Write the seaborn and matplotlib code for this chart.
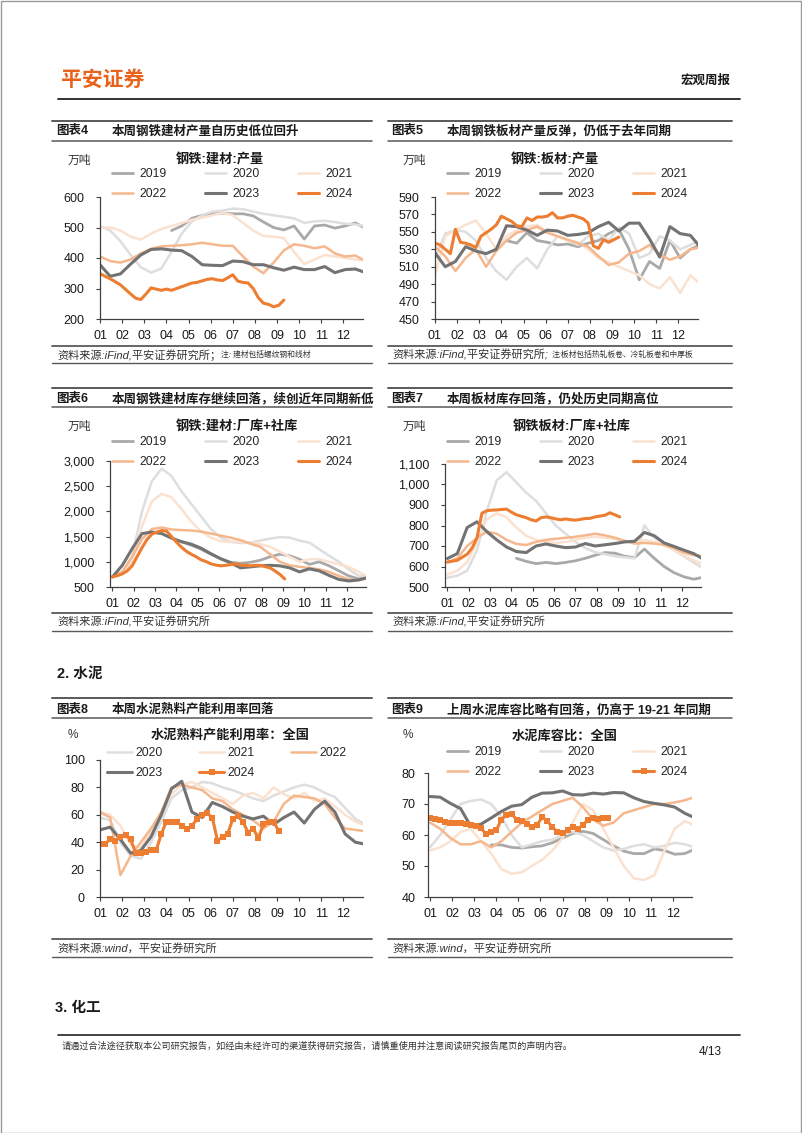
"""Page 4 of the macro weekly: steel output / inventory and cement seasonal charts."""

import numpy as np
import matplotlib
matplotlib.use("Agg")
import matplotlib.pyplot as plt
import seaborn as sns
from matplotlib.lines import Line2D
from matplotlib.patches import Rectangle
from matplotlib.ticker import FuncFormatter

W, H = 802, 1133

# ── week grids (week 0 = first week of January) ─────────────────────────────
WK2 = np.arange(0, 53, 2)        # full year, every other week
WK2_APR = np.arange(14, 53, 2)   # 2019 series starting in April
WK2_MAR = np.arange(12, 53, 2)   # 2019 cement series starting late March

MONTHS = ["01", "02", "03", "04", "05", "06", "07", "08", "09", "10", "11", "12"]
YEARS6 = ["2019", "2020", "2021", "2022", "2023", "2024"]
YEARS5 = ["2020", "2021", "2022", "2023", "2024"]

# ── 图表4 钢铁:建材:产量 (万吨) ────────────────────────────────────────────
rebar_out_2019 = [490, 505, 530, 540, 545, 547, 545, 545, 538, 518, 500, 492, 505, 462,
                  505, 508, 498, 505, 515, 497]
rebar_out_2020 = [505, 490, 455, 410, 370, 352, 365, 420, 480, 520, 540, 552, 555, 562,
                  560, 552, 545, 540, 535, 530, 515, 520, 522, 518, 512, 510, 505]
rebar_out_2021 = [500, 500, 490, 470, 460, 480, 495, 505, 515, 525, 532, 540, 548, 540,
                  515, 490, 472, 470, 465, 420, 380, 395, 410, 405, 400, 395, 392]
rebar_out_2022 = [405, 390, 385, 395, 415, 430, 438, 440, 442, 445, 450, 445, 440, 440,
                  405, 372, 350, 385, 425, 445, 440, 432, 438, 415, 405, 408, 390]
rebar_out_2023 = [378, 340, 348, 380, 410, 428, 430, 426, 424, 405, 378, 376, 375, 390,
                  388, 378, 378, 368, 360, 370, 362, 362, 372, 352, 362, 364, 352]
rebar_out_2024 = [349, 340, 332, 322, 312, 297, 282, 268, 264, 282, 302, 298, 294, 298,
                  294, 300, 306, 312, 318, 320, 325, 330, 332, 328, 326, 335, 345, 324,
                  320, 318, 300, 270, 252, 248, 240, 245, 262]

# ── 图表5 钢铁:板材:产量 (万吨) ────────────────────────────────────────────
plate_out_2019 = [540, 537, 549, 540, 538, 535, 536, 533, 537, 540, 548, 553, 530, 495,
                  516, 508, 540, 520, 530, 535]
plate_out_2020 = [520, 548, 552, 550, 540, 520, 505, 495, 510, 520, 508, 530, 545, 540,
                  535, 545, 548, 540, 555, 548, 520, 525, 545, 540, 530, 535, 540]
plate_out_2021 = [500, 545, 552, 558, 563, 548, 530, 545, 552, 556, 558, 550, 545, 540,
                  538, 530, 520, 515, 510, 505, 500, 490, 485, 498, 480, 500, 490]
plate_out_2022 = [533, 522, 505, 520, 530, 510, 528, 540, 549, 552, 556, 549, 545, 541,
                  537, 533, 522, 512, 515, 525, 528, 535, 524, 518, 522, 530, 532]
plate_out_2023 = [526, 510, 516, 533, 528, 525, 530, 557, 556, 552, 546, 552, 551, 546,
                  547, 549, 556, 561, 551, 560, 560, 542, 521, 556, 548, 546, 532]
plate_out_2024 = [537, 535, 530, 525, 553, 538, 537, 535, 532, 545, 549, 553, 558, 568,
                  565, 562, 557, 556, 566, 563, 567, 567, 568, 572, 566, 566, 568, 569,
                  567, 565, 560, 534, 531, 541, 538, 541, 544]

# ── 图表6 钢铁:建材:厂库+社库 (万吨) ───────────────────────────────────────
rebar_inv_2019 = [1400, 1330, 1250, 1150, 1060, 990, 970, 990, 1030, 1100, 1150, 1120,
                  1050, 950, 1000, 920, 820, 720, 660, 700]
rebar_inv_2020 = [700, 800, 1100, 2000, 2600, 2850, 2700, 2400, 2150, 1900, 1650, 1480,
                  1400, 1370, 1380, 1420, 1460, 1490, 1480, 1420, 1380, 1250, 1120, 1000,
                  850, 720, 700]
rebar_inv_2021 = [700, 780, 1000, 1700, 2200, 2350, 2280, 2050, 1800, 1600, 1480, 1410,
                  1390, 1400, 1380, 1350, 1300, 1200, 1100, 1000, 1050, 1050, 1000, 950,
                  900, 800, 700]
rebar_inv_2022 = [700, 800, 1100, 1450, 1650, 1680, 1640, 1630, 1620, 1600, 1560, 1520,
                  1480, 1430, 1360, 1300, 1150, 1000, 930, 900, 880, 850, 800, 720, 650,
                  640, 680]
rebar_inv_2023 = [700, 930, 1260, 1560, 1590, 1560, 1470, 1400, 1350, 1270, 1160, 1060,
                  980, 880, 900, 920, 930, 920, 880, 800, 860, 820, 730, 650, 620, 640, 690]
rebar_inv_2024 = [700, 725, 760, 820, 920, 1100, 1280, 1440, 1550, 1590, 1620, 1610, 1500,
                  1390, 1290, 1210, 1150, 1100, 1040, 1005, 960, 935, 920, 930, 945, 960,
                  935, 930, 920, 930, 930, 905, 880, 820, 750, 660]

# ── 图表7 钢铁板材:厂库+社库 (万吨) ────────────────────────────────────────
plate_inv_2019 = [640, 625, 614, 620, 614, 620, 628, 640, 655, 668, 665, 650, 643, 685,
                  640, 600, 570, 550, 538, 548]
plate_inv_2020 = [545, 555, 580, 680, 870, 1020, 1060, 1010, 960, 920, 860, 800, 760, 720,
                  690, 670, 660, 650, 645, 640, 800, 740, 710, 680, 650, 620, 590]
plate_inv_2021 = [560, 580, 620, 720, 830, 860, 840, 790, 750, 730, 720, 715, 720, 730,
                  740, 745, 740, 735, 725, 715, 730, 720, 705, 680, 655, 630, 610]
plate_inv_2022 = [620, 640, 700, 740, 770, 760, 730, 710, 705, 720, 730, 735, 740, 745,
                  752, 760, 752, 740, 725, 712, 715, 712, 705, 690, 668, 655, 650]
plate_inv_2023 = [639, 663, 790, 818, 770, 730, 695, 673, 668, 700, 710, 700, 692, 695,
                  712, 700, 706, 712, 720, 723, 766, 750, 715, 698, 680, 663, 636]
plate_inv_2024 = [622, 626, 630, 645, 660, 690, 740, 860, 872, 875, 876, 878, 880, 865,
                  852, 845, 838, 828, 822, 838, 842, 838, 832, 828, 832, 828, 826, 830,
                  834, 835, 842, 846, 850, 862, 852, 842]

# ── 图表8 水泥熟料产能利用率：全国 (%) ─────────────────────────────────────
clinker_2020 = [58, 56, 40, 30, 28, 40, 55, 72, 78, 80, 84, 83, 80, 78, 75, 72, 70, 74,
                77, 80, 82, 80, 76, 73, 65, 57, 53]
clinker_2021 = [62, 60, 52, 38, 36, 48, 60, 75, 82, 84, 80, 76, 72, 68, 74, 76, 72, 80,
                75, 72, 76, 70, 72, 66, 60, 55, 52]
clinker_2022 = [62, 58, 16, 30, 40, 50, 62, 80, 82, 80, 78, 72, 70, 64, 60, 56, 50, 55,
                68, 74, 73, 72, 68, 58, 50, 49, 48]
clinker_2023 = [49, 51, 42, 32, 34, 44, 60, 79, 84.5, 62, 58, 69, 66, 62, 59, 57, 59, 53,
                58, 62, 54, 64, 70, 62, 46, 40, 38.5]
clinker_2024 = [39, 39, 42, 41, 44, 45, 42, 32, 32, 33, 34, 34, 46, 55, 55, 55, 52, 50,
                52, 57, 60, 61, 58, 41, 44, 46, 57, 59, 55, 47, 50, 43, 53, 55, 55, 48]

# ── 图表9 水泥库容比：全国 (%) ─────────────────────────────────────────────
kiln_2019 = [56.8, 56.8, 56.0, 55.8, 56.2, 56.5, 57.5, 59.0, 60.5, 61.2, 60.5, 58.5,
             56.5, 54.8, 54.0, 54.0, 55.5, 55.0, 53.8, 54.0, 55.5]
kiln_2020 = [56, 60, 65, 70, 71, 71.5, 70, 66, 60, 56, 57, 58, 58.5, 60, 61, 60, 58, 56,
             55, 55.5, 56.5, 57, 56, 56.5, 57.5, 57, 56]
kiln_2021 = [55, 56, 58, 61, 62, 58, 54, 49, 47.5, 48, 50, 52, 55, 59, 64, 70, 68, 62, 56,
             50, 46, 45.5, 47, 55, 62, 64.5, 63]
kiln_2022 = [64, 62, 59, 57, 57, 58, 56, 58, 61, 64, 66, 68, 70, 71, 72, 69, 65, 63, 64,
             67, 68, 69, 70, 70, 70.5, 71.2, 72.3]
kiln_2023 = [72.4, 72.2, 70.2, 68.5, 62.8, 63.5, 65.5, 67.6, 69.3, 69.8, 72.2, 73.5, 73.6,
             74.2, 73.0, 72.9, 73.5, 73.2, 73.7, 73.6, 72.0, 70.8, 70.2, 69.7, 69.0, 67.0,
             65.5]
kiln_2024 = [65.5, 65.2, 64.8, 64.3, 64.0, 64.0, 63.8, 63.6, 63.2, 62.8, 62.2, 60.3, 61.0,
             61.5, 65.0, 66.5, 66.8, 65.0, 64.5, 63.5, 62.7, 63.2, 65.8, 64.5, 62.5, 61.0,
             60.5, 61.6, 62.7, 62.0, 63.2, 64.9, 65.6, 65.1, 65.4, 65.4]

STYLE = {
    "2019": dict(color="#a9a9a9", lw=2.0),
    "2020": dict(color="#dedede", lw=1.8),
    "2021": dict(color="#fbe2d0", lw=1.8),
    "2022": dict(color="#f5b78e", lw=1.8),
    "2023": dict(color="#737373", lw=2.2),
    "2024": dict(color="#ed7d31", lw=2.2),
}
ORANGE = "#e8621c"
INK = "#1a1a1a"

sns.set_style("ticks")
plt.rcParams["font.family"] = ["Liberation Sans", "Noto Sans CJK SC"]

fig = plt.figure(figsize=(W / 100, H / 100), dpi=100)


def fx(x):
    return x / W


def fy(y):
    return 1 - y / H


def hline(x0, x1, y, color="#4d4d4d", lw=1.1):
    fig.add_artist(Line2D([fx(x0), fx(x1)], [fy(y), fy(y)], color=color, lw=lw,
                          transform=fig.transFigure))


def text(x, y, s, **kw):
    kw.setdefault("va", "center")
    kw.setdefault("color", INK)
    fig.text(fx(x), fy(y), s, **kw)


def draw_panel(box, series, years, ylim, ystep, legend_xy, xlim=(0, 51.5), comma=False,
               markers=False, ypad=8.0, hl=1.75, htp=0.5, cs=3.2):
    x0, y0, x1, y1 = box
    ax = fig.add_axes([fx(x0), fy(y1), (x1 - x0) / W, (y1 - y0) / H])
    handles = {}
    for year, wk, vals in series:
        st = STYLE[year]
        mk = {}
        if markers and year == "2024":
            mk = dict(marker="s", markersize=3.8, markeredgewidth=0)
        sns.lineplot(x=wk, y=vals, ax=ax, color=st["color"], linewidth=st["lw"], **mk)
        handles[year] = Line2D([], [], color=st["color"], lw=st["lw"], **mk)

    ax.set_xlim(*xlim)
    ax.set_ylim(*ylim)
    ax.set_xticks([(m - 1) * 52 / 12 for m in range(1, 13)])
    ax.set_xticklabels(MONTHS)
    ax.set_yticks(np.arange(ylim[0], ylim[1] + ystep / 2, ystep))
    if comma:
        ax.yaxis.set_major_formatter(FuncFormatter(lambda v, _: f"{v:,.0f}"))
    ax.set_xlabel("")
    ax.set_ylabel("")
    ax.tick_params(axis="both", length=3, width=0.8, color="#404040", labelsize=9,
                   labelcolor=INK)
    ax.tick_params(axis="y", pad=ypad)
    ax.tick_params(axis="x", pad=5)
    for side in ("top", "right"):
        ax.spines[side].set_visible(False)
    for side in ("left", "bottom"):
        ax.spines[side].set_color("#404040")
        ax.spines[side].set_linewidth(0.9)
    ax.patch.set_alpha(0)

    # matplotlib fills legend columns first, so reorder for row-wise reading
    order = [years[r * 3 + c] for c in range(3) for r in range(2) if r * 3 + c < len(years)]
    ax.legend([handles[y] for y in order], order, ncol=3, loc="upper left",
              bbox_to_anchor=(fx(legend_xy[0]), fy(legend_xy[1])),
              bbox_transform=fig.transFigure, frameon=False, fontsize=8.7,
              handlelength=hl, handletextpad=htp, columnspacing=cs, labelspacing=0.7,
              borderpad=0, borderaxespad=0)
    return ax


def wk1(vals):
    return np.arange(len(vals))


# ── page furniture ──────────────────────────────────────────────────────────
fig.add_artist(Rectangle((0.5 / W, 0.5 / H), 1 - 1.5 / W, 1 - 1.5 / H,
                         transform=fig.transFigure, fill=False, ec="#9a9a9a", lw=1.0))
text(61, 80, "平安证券", fontsize=15, fontweight="bold", color=ORANGE)
text(731, 81, "宏观周报", fontsize=9, fontweight="bold", ha="right")
hline(58, 740, 98.5, color="#222222", lw=1.3)

bars = [
    (121, 131, 141, 346, 355, 363),
    (388, 399, 407, 613, 622, 631),
    (698, 710, 718, 939, 948, 957),
]
for top, ttl, bot, s_top, s_txt, s_bot in bars:
    for xa, xb in ((52, 372), (388, 732)):
        hline(xa, xb, top, color="#595959", lw=1.4)
        hline(xa, xb, bot, color="#595959", lw=1.1)
        hline(xa, xb, s_top, color="#595959", lw=1.3)
        hline(xa, xb, s_bot, color="#595959", lw=1.0)

titles = [
    (56, 131, "图表4", "本周钢铁建材产量自历史低位回升"),
    (391, 131, "图表5", "本周钢铁板材产量反弹，仍低于去年同期"),
    (56, 399, "图表6", "本周钢铁建材库存继续回落，续创近年同期新低"),
    (391, 399, "图表7", "本周板材库存回落，仍处历史同期高位"),
    (56, 710, "图表8", "本周水泥熟料产能利用率回落"),
    (391, 710, "图表9", "上周水泥库容比略有回落，仍高于 19-21 年同期"),
]
for x, y, tag, s in titles:
    text(x, y, tag, fontsize=9, fontweight="bold")
    text(x + 56, y, s, fontsize=9, fontweight="bold")

src_kw = dict(fontsize=8, style="italic", color="#333333")
text(57, 355, "资料来源:iFind,平安证券研究所；", **src_kw)
text(221, 355, "注: 建材包括螺纹钢和线材", fontsize=5.6, style="italic", color="#333333")
text(392, 355, "资料来源:iFind,平安证券研究所;", **src_kw)
text(552, 355, "注:板材包括热轧板卷、冷轧板卷和中厚板", fontsize=5.6, style="italic",
     color="#333333")
text(57, 622, "资料来源:iFind,平安证券研究所", **src_kw)
text(392, 622, "资料来源:iFind,平安证券研究所", **src_kw)
text(57, 948, "资料来源:wind，平安证券研究所", **src_kw)
text(392, 948, "资料来源:wind，平安证券研究所", **src_kw)

text(57, 674, "2. 水泥", fontsize=10.5, fontweight="bold")
text(55, 1008, "3. 化工", fontsize=10.5, fontweight="bold")

hline(58, 740, 1035, color="#222222", lw=1.2)
text(62, 1046, "请通过合法途径获取本公司研究报告，如经由未经许可的渠道获得研究报告，"
     "请慎重使用并注意阅读研究报告尾页的声明内容。", fontsize=6.6, color="#333333")
text(722, 1052, "4/13", fontsize=8.5, ha="right")

# units and chart titles
for x, y, s in [(68, 161, "万吨"), (403, 161, "万吨"), (68, 427, "万吨"), (403, 427, "万吨"),
                (68, 735, "%"), (403, 735, "%")]:
    text(x, y, s, fontsize=8.5, color="#333333")
for x, y, s in [(220, 160, "钢铁:建材:产量"), (555, 160, "钢铁:板材:产量"),
                (237, 426, "钢铁:建材:厂库+社库"), (572, 426, "钢铁板材:厂库+社库"),
                (230, 736, "水泥熟料产能利用率：全国"), (565, 736, "水泥库容比：全国")]:
    text(x, y, s, fontsize=9.5, fontweight="bold", ha="center")

# ── panels ──────────────────────────────────────────────────────────────────
draw_panel((100, 197, 363, 319),
           [("2019", WK2_APR, rebar_out_2019), ("2020", WK2, rebar_out_2020),
            ("2021", WK2, rebar_out_2021), ("2022", WK2, rebar_out_2022),
            ("2023", WK2, rebar_out_2023), ("2024", wk1(rebar_out_2024), rebar_out_2024)],
           YEARS6, (200, 600), 100, (112, 168))

draw_panel((435, 197, 698, 319),
           [("2019", WK2_APR, plate_out_2019), ("2020", WK2, plate_out_2020),
            ("2021", WK2, plate_out_2021), ("2022", WK2, plate_out_2022),
            ("2023", WK2, plate_out_2023), ("2024", wk1(plate_out_2024), plate_out_2024)],
           YEARS6, (450, 590), 20, (447, 168))

draw_panel((110, 461, 366, 587),
           [("2019", WK2_APR, rebar_inv_2019), ("2020", WK2, rebar_inv_2020),
            ("2021", WK2, rebar_inv_2021), ("2022", WK2, rebar_inv_2022),
            ("2023", WK2, rebar_inv_2023), ("2024", wk1(rebar_inv_2024), rebar_inv_2024)],
           YEARS6, (500, 3000), 500, (112, 436), xlim=(-0.5, 51.5), comma=True)

draw_panel((445, 464, 701, 587),
           [("2019", WK2_APR, plate_inv_2019), ("2020", WK2, plate_inv_2020),
            ("2021", WK2, plate_inv_2021), ("2022", WK2, plate_inv_2022),
            ("2023", WK2, plate_inv_2023), ("2024", wk1(plate_inv_2024), plate_inv_2024)],
           YEARS6, (500, 1100), 100, (447, 436), xlim=(-0.5, 51.5), comma=True)

draw_panel((100, 760, 363, 897),
           [("2020", WK2, clinker_2020), ("2021", WK2, clinker_2021),
            ("2022", WK2, clinker_2022), ("2023", WK2, clinker_2023),
            ("2024", wk1(clinker_2024), clinker_2024)],
           YEARS5, (0, 100), 20, (107, 747), markers=True, hl=2.1, htp=0.25, cs=3.0)

draw_panel((428, 773, 692, 897),
           [("2019", WK2_MAR, kiln_2019), ("2020", WK2, kiln_2020),
            ("2021", WK2, kiln_2021), ("2022", WK2, kiln_2022),
            ("2023", WK2, kiln_2023), ("2024", wk1(kiln_2024), kiln_2024)],
           YEARS6, (40, 80), 10, (447, 746), xlim=(-0.4, 51.4), markers=True, ypad=6.0)

fig.savefig("out.png", dpi=100)
plt.close(fig)
